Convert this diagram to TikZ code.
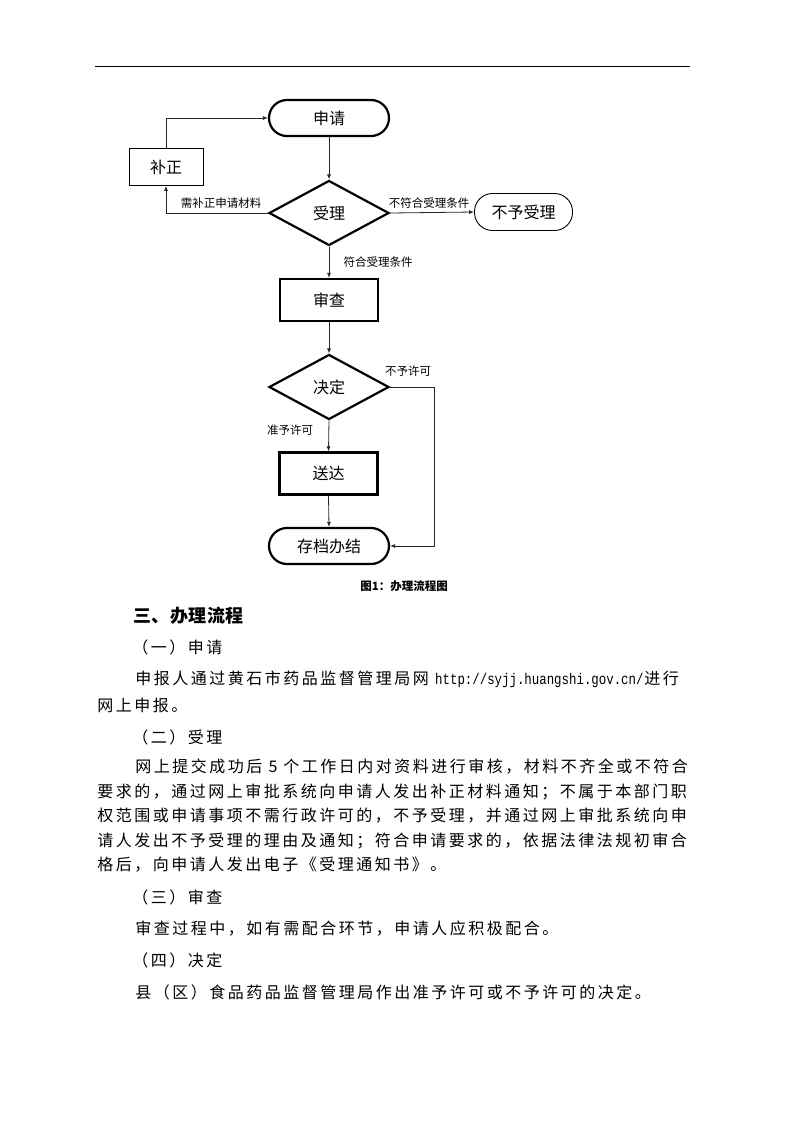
\documentclass[tikz,border=0pt]{standalone}
\usepackage{fontspec}
\setmainfont{Noto Sans CJK SC}
\newfontfamily\urlfont{Liberation Mono}
\usetikzlibrary{shapes.geometric,arrows.meta}
\newlength\cellw
\setlength\cellw{18.5pt}
\def\grid#1{\ifx#1\relax\else\makebox[\cellw]{#1}\expandafter\grid\fi}
\begin{document}
\begin{tikzpicture}[x=1pt,y=-1pt,
  term/.style={draw, line width=2.2pt, rounded corners=18pt, minimum width=120pt, minimum height=36pt, inner sep=0pt, font=\fontsize{16}{16}\selectfont},
  proc/.style={draw, line width=2.2pt, minimum width=98pt, minimum height=42pt, inner sep=0pt, font=\fontsize{16}{16}\selectfont},
  decis/.style={draw, diamond, line width=2.2pt, minimum width=120pt, minimum height=65pt, inner sep=0pt, font=\fontsize{16}{16}\selectfont},
  thinbox/.style={draw, line width=0.9pt, minimum width=74pt, minimum height=37pt, inner sep=0pt, font=\fontsize{16}{16}\selectfont},
  thinterm/.style={draw, line width=0.9pt, rounded corners=18pt, minimum width=98pt, minimum height=37pt, inner sep=0pt, font=\fontsize{16}{16}\selectfont},
  conn/.style={draw=black!85, line width=0.8pt, -{Latex[length=5pt,width=4pt]}},
  elabel/.style={inner sep=0pt, font=\fontsize{11.5}{11.5}\selectfont},
  tx/.style={anchor=base west, inner sep=0pt, font=\fontsize{16}{16}\selectfont},
  hd/.style={anchor=base west, inner sep=0pt, font=\fontsize{18}{18}\selectfont\bfseries}
]
\fill[white] (0,0) rectangle (793,1122);
\useasboundingbox (0,0) rectangle (793,1122);

% header rule
\draw[line width=0.8pt] (95,66) -- (690,66);

% flowchart nodes
\node[term] (shenqing) at (329,118) {申请};
\node[thinbox] (buzheng) at (166,167) {补正};
\node[decis] (shouli) at (329,213) {受理};
\node[thinterm] (buyu) at (523.5,212) {不予受理};
\node[proc] (shencha) at (329,300) {审查};
\node[decis] (jueding) at (329,387) {决定};
\node[proc] (songda) at (328.5,473.5) {送达};
\node[term] (cundang) at (329,546) {存档办结};
\coordinate (rt) at (434,387);

% connectors
\draw[conn] (shenqing.south) -- (shouli.north);
\draw[conn] (shouli.west) -| (buzheng.south);
\draw[conn] (buzheng.north) |- (shenqing.west);
\draw[conn] (shouli.east) -- (buyu.west);
\draw[conn] (shouli.south) -- (shencha.north);
\draw[conn] (shencha.south) -- (jueding.north);
\draw[conn] (jueding.south) -- (songda.north);
\draw[conn] (songda.south) -- (cundang.north);
\draw[conn] (jueding.east) -- (rt) |- (cundang.east);

% connector labels
\node[elabel] (l1) at (221,203) {需补正申请材料};
\node[elabel] (l2) at (429,203) {不符合受理条件};
\node[elabel] (l3) at (378,262) {符合受理条件};
\node[elabel] (l4) at (408,371) {不予许可};
\node[elabel] (l5) at (290,430) {准予许可};

% caption
\node[inner sep=0pt, font=\fontsize{11.5}{11.5}\selectfont\bfseries] (cap) at (404,586) {图1：办理流程图};

% body text
\node[hd] (h3) at (133,622) {\grid 三、办理流程\relax};
\node[tx] (s1) at (131,653) {\grid （一）申请\relax};
\node[tx] (p1a) at (134,684) {\grid 申报人通过黄石市药品监督管理局网\relax};
\node[tx, font=\urlfont\fontsize{12.4}{12.4}\selectfont] (url) at (435,684) {\scalebox{1}[1.25]{http://syjj.huangshi.gov.cn/}};
\node[tx] (p1b) at (643,684) {\grid 进行\relax};
\node[tx] (p1c) at (96,711) {\grid 网上申报。\relax};
\node[tx] (s2) at (131,743) {\grid （二）受理\relax};
\node[tx] (p2a) at (134,772) {\grid 网上提交成功后5个工作日内对资料进行审核，材料不齐全或不符合\relax};
\node[tx] (p2b) at (96,797) {\grid 要求的，通过网上审批系统向申请人发出补正材料通知；不属于本部门职\relax};
\node[tx] (p2c) at (96,821) {\grid 权范围或申请事项不需行政许可的，不予受理，并通过网上审批系统向申\relax};
\node[tx] (p2d) at (96,846) {\grid 请人发出不予受理的理由及通知；符合申请要求的，依据法律法规初审合\relax};
\node[tx] (p2e) at (96,870) {\grid 格后，向申请人发出电子《受理通知书》。\relax};
\node[tx] (s3) at (131,903) {\grid （三）审查\relax};
\node[tx] (p3) at (134,934) {\grid 审查过程中，如有需配合环节，申请人应积极配合。\relax};
\node[tx] (s4) at (131,966) {\grid （四）决定\relax};
\node[tx] (p4) at (134,998) {\grid 县（区）食品药品监督管理局作出准予许可或不予许可的决定。\relax};
\end{tikzpicture}
\end{document}
